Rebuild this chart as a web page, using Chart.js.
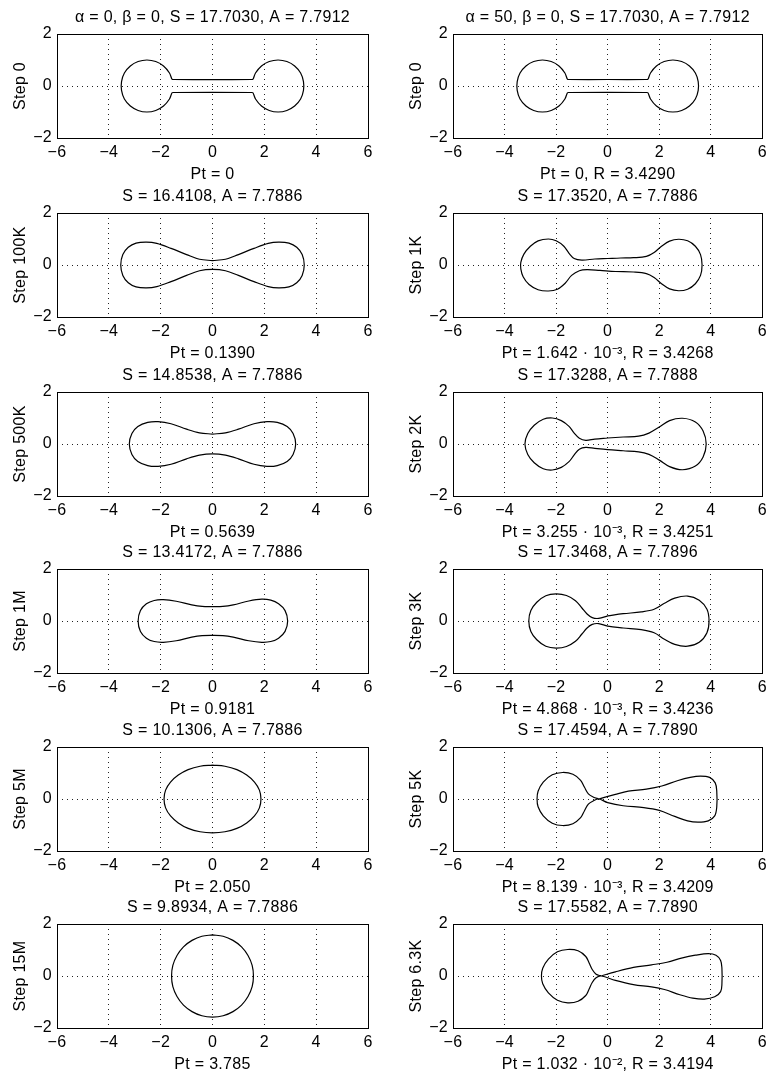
<!DOCTYPE html>
<html>
<head>
<meta charset="utf-8">
<script src="https://cdn.jsdelivr.net/npm/chart.js@4.4.1/dist/chart.umd.min.js"></script>
<style>
  body { margin: 0; background: #fff; width: 772px; height: 1076px; position: relative; overflow: hidden; }
  canvas { position: absolute; }
</style>
</head>
<body>
<script>
// tick labels
const xTickValues = [-6, -4, -2, 0, 2, 4, 6];
const yTickValues = [-2, 0, 2];

// texts, left column (alpha = 0)
const leftTitles = [
  "\u03b1 = 0, \u03b2 = 0, S = 17.7030, A = 7.7912",
  "S = 16.4108, A = 7.7886",
  "S = 14.8538, A = 7.7886",
  "S = 13.4172, A = 7.7886",
  "S = 10.1306, A = 7.7886",
  "S = 9.8934, A = 7.7886"
];
const leftSteps = ["Step 0", "Step 100K", "Step 500K", "Step 1M", "Step 5M", "Step 15M"];
const leftPt = ["Pt = 0", "Pt = 0.1390", "Pt = 0.5639", "Pt = 0.9181", "Pt = 2.050", "Pt = 3.785"];

// texts, right column (alpha = 50)
const rightTitles = [
  "\u03b1 = 50, \u03b2 = 0, S = 17.7030, A = 7.7912",
  "S = 17.3520, A = 7.7886",
  "S = 17.3288, A = 7.7888",
  "S = 17.3468, A = 7.7896",
  "S = 17.4594, A = 7.7890",
  "S = 17.5582, A = 7.7890"
];
const rightSteps = ["Step 0", "Step 1K", "Step 2K", "Step 3K", "Step 5K", "Step 6.3K"];
const rightPt = [
  "Pt = 0, R = 3.4290",
  "Pt = 1.642 \u00b7 10\u207b\u00b3, R = 3.4268",
  "Pt = 3.255 \u00b7 10\u207b\u00b3, R = 3.4251",
  "Pt = 4.868 \u00b7 10\u207b\u00b3, R = 3.4236",
  "Pt = 8.139 \u00b7 10\u207b\u00b3, R = 3.4209",
  "Pt = 1.032 \u00b7 10\u207b\u00b2, R = 3.4194"
];

// shapes, points, in order round each closed curve
const step0 = [[0,0.25],[-1.5,0.25],[-1.56,0.26],[-1.66,0.5],[-1.89,0.77],[-2.19,0.94],[-2.53,1],[-2.87,0.94],[-3.17,0.77],[-3.4,0.5],[-3.51,0.17],[-3.51,-0.17],[-3.4,-0.5],[-3.17,-0.77],[-2.87,-0.94],[-2.53,-1],[-2.19,-0.94],[-1.89,-0.77],[-1.66,-0.5],[-1.56,-0.26],[-1.5,-0.25],[1.5,-0.25],[1.56,-0.26],[1.66,-0.5],[1.89,-0.77],[2.19,-0.94],[2.53,-1],[2.87,-0.94],[3.17,-0.77],[3.4,-0.5],[3.51,-0.17],[3.51,0.17],[3.4,0.5],[3.17,0.77],[2.87,0.94],[2.53,1],[2.19,0.94],[1.89,0.77],[1.66,0.5],[1.56,0.26],[1.5,0.25],[0,0.25]];

const step100K = [[0,0.17],[-0.5,0.22],[-1,0.4],[-1.6,0.64],[-2.15,0.83],[-2.55,0.88],[-2.95,0.84],[-3.25,0.68],[-3.46,0.4],[-3.54,0],[-3.46,-0.4],[-3.25,-0.68],[-2.95,-0.84],[-2.55,-0.88],[-2.15,-0.83],[-1.6,-0.64],[-1,-0.4],[-0.5,-0.22],[0,-0.17],[0.5,-0.22],[1,-0.4],[1.6,-0.64],[2.15,-0.83],[2.55,-0.88],[2.95,-0.84],[3.25,-0.68],[3.46,-0.4],[3.54,0],[3.46,0.4],[3.25,0.68],[2.95,0.84],[2.55,0.88],[2.15,0.83],[1.6,0.64],[1,0.4],[0.5,0.22],[0,0.17]];

const step500K = [[0,0.38],[-0.5,0.43],[-1,0.57],[-1.6,0.78],[-2.1,0.86],[-2.5,0.83],[-2.88,0.67],[-3.11,0.4],[-3.21,0],[-3.11,-0.4],[-2.88,-0.67],[-2.5,-0.83],[-2.1,-0.86],[-1.6,-0.78],[-1,-0.57],[-0.5,-0.43],[0,-0.38],[0.5,-0.43],[1,-0.57],[1.6,-0.78],[2.1,-0.86],[2.5,-0.83],[2.88,-0.67],[3.11,-0.4],[3.21,0],[3.11,0.4],[2.88,0.67],[2.5,0.83],[2.1,0.86],[1.6,0.78],[1,0.57],[0.5,0.43],[0,0.38]];

const step1M = [[0,0.55],[-0.4,0.56],[-0.8,0.62],[-1.4,0.76],[-1.9,0.82],[-2.25,0.79],[-2.55,0.66],[-2.78,0.4],[-2.87,0],[-2.78,-0.4],[-2.55,-0.66],[-2.25,-0.79],[-1.9,-0.82],[-1.4,-0.76],[-0.8,-0.62],[-0.4,-0.56],[0,-0.55],[0.4,-0.56],[0.8,-0.62],[1.4,-0.76],[1.9,-0.82],[2.25,-0.79],[2.55,-0.66],[2.8,-0.4],[2.9,0],[2.8,0.4],[2.55,0.66],[2.25,0.8],[1.9,0.84],[1.4,0.77],[0.8,0.62],[0.4,0.56],[0,0.55]];

const step5M = [[0,1.3],[-0.48,1.26],[-0.94,1.13],[-1.32,0.92],[-1.62,0.65],[-1.81,0.34],[-1.87,0],[-1.81,-0.34],[-1.62,-0.65],[-1.32,-0.92],[-0.94,-1.13],[-0.48,-1.26],[0,-1.3],[0.48,-1.26],[0.94,-1.13],[1.32,-0.92],[1.62,-0.65],[1.81,-0.34],[1.87,0],[1.81,0.34],[1.62,0.65],[1.32,0.92],[0.94,1.13],[0.48,1.26],[0,1.3]];

const step15M = [[0,1.58],[-0.41,1.53],[-0.79,1.37],[-1.12,1.12],[-1.37,0.79],[-1.53,0.41],[-1.58,0],[-1.53,-0.41],[-1.37,-0.79],[-1.12,-1.12],[-0.79,-1.37],[-0.41,-1.53],[0,-1.58],[0.41,-1.53],[0.79,-1.37],[1.12,-1.12],[1.37,-0.79],[1.53,-0.41],[1.58,0],[1.53,0.41],[1.37,0.79],[1.12,1.12],[0.79,1.37],[0.41,1.53],[0,1.58]];

const step1K = [[0,0.25],[-0.5,0.23],[-1,0.19],[-1.3,0.25],[-1.5,0.45],[-1.7,0.72],[-2,0.93],[-2.3,1],[-2.7,0.93],[-3,0.72],[-3.25,0.42],[-3.37,0.1],[-3.37,-0.15],[-3.28,-0.45],[-3.05,-0.75],[-2.7,-0.95],[-2.3,-1],[-1.95,-0.93],[-1.65,-0.7],[-1.4,-0.4],[-1.1,-0.22],[-0.8,-0.18],[-0.3,-0.21],[0.3,-0.25],[1,-0.27],[1.5,-0.33],[1.8,-0.48],[2.1,-0.73],[2.4,-0.92],[2.75,-0.99],[3.1,-0.93],[3.4,-0.72],[3.6,-0.4],[3.66,0],[3.6,0.4],[3.4,0.72],[3.1,0.93],[2.75,0.99],[2.4,0.92],[2.1,0.73],[1.8,0.48],[1.5,0.33],[1,0.28],[0.5,0.27],[0,0.25]];

const step2K = [[0,0.23],[-0.5,0.19],[-0.85,0.14],[-1.1,0.22],[-1.3,0.42],[-1.5,0.68],[-1.8,0.9],[-2.15,1],[-2.5,0.95],[-2.85,0.72],[-3.1,0.4],[-3.21,0],[-3.1,-0.4],[-2.85,-0.72],[-2.5,-0.95],[-2.15,-1],[-1.8,-0.9],[-1.5,-0.68],[-1.3,-0.42],[-1.1,-0.2],[-0.85,-0.13],[-0.5,-0.17],[0,-0.22],[0.6,-0.26],[1.2,-0.3],[1.6,-0.4],[2,-0.62],[2.4,-0.87],[2.9,-0.99],[3.4,-0.85],[3.7,-0.5],[3.82,0],[3.7,0.5],[3.4,0.85],[2.9,0.99],[2.4,0.9],[2,0.65],[1.6,0.42],[1.2,0.3],[0.6,0.27],[0,0.23]];

const step3K = [[0,0.2],[-0.35,0.1],[-0.6,0.13],[-0.8,0.27],[-1,0.5],[-1.25,0.78],[-1.6,0.98],[-2,1.04],[-2.4,0.97],[-2.75,0.72],[-2.98,0.4],[-3.06,0],[-2.98,-0.4],[-2.75,-0.72],[-2.4,-0.97],[-2,-1.04],[-1.6,-0.98],[-1.25,-0.78],[-1,-0.5],[-0.8,-0.27],[-0.6,-0.13],[-0.35,-0.1],[0,-0.2],[0.6,-0.27],[1.3,-0.33],[1.8,-0.45],[2.2,-0.7],[2.6,-0.9],[3.1,-0.97],[3.55,-0.82],[3.85,-0.45],[3.93,0],[3.85,0.45],[3.55,0.8],[3.1,0.96],[2.6,0.88],[2.2,0.68],[1.8,0.45],[1.3,0.35],[0.6,0.28],[0,0.2]];

const step5K = [[-0.35,0],[-0.55,0.07],[-0.75,0.2],[-0.9,0.45],[-1.05,0.72],[-1.35,0.95],[-1.75,1.02],[-2.15,0.93],[-2.5,0.65],[-2.7,0.3],[-2.74,0],[-2.7,-0.3],[-2.5,-0.65],[-2.15,-0.93],[-1.75,-1.02],[-1.35,-0.95],[-1.05,-0.72],[-0.9,-0.45],[-0.75,-0.2],[-0.55,-0.07],[-0.35,0],[0,-0.14],[0.6,-0.26],[1.4,-0.33],[2,-0.44],[2.6,-0.67],[3.1,-0.84],[3.5,-0.89],[3.9,-0.84],[4.15,-0.65],[4.23,-0.3],[4.23,0.3],[4.17,0.62],[3.95,0.83],[3.6,0.88],[3.2,0.83],[2.7,0.7],[2.1,0.5],[1.5,0.38],[0.8,0.3],[0.3,0.18],[-0.35,0]];

const step6_3K = [[-0.25,0],[-0.45,0.07],[-0.6,0.25],[-0.72,0.5],[-0.85,0.75],[-1.15,0.97],[-1.55,1.02],[-1.95,0.93],[-2.3,0.65],[-2.52,0.3],[-2.57,0],[-2.52,-0.3],[-2.3,-0.65],[-1.95,-0.93],[-1.55,-1.03],[-1.15,-0.97],[-0.85,-0.75],[-0.72,-0.5],[-0.6,-0.25],[-0.45,-0.07],[-0.25,0],[0.3,-0.17],[1,-0.33],[1.7,-0.42],[2.2,-0.52],[2.8,-0.72],[3.3,-0.85],[3.75,-0.89],[4.15,-0.8],[4.38,-0.6],[4.43,-0.3],[4.43,0.3],[4.38,0.6],[4.2,0.8],[3.9,0.86],[3.4,0.8],[2.9,0.7],[2.3,0.53],[1.7,0.43],[1,0.33],[0.3,0.16],[-0.25,0]];

const leftShapes = [step0, step100K, step500K, step1M, step5M, step15M];
const rightShapes = [step0, step1K, step2K, step3K, step5K, step6_3K];

// top edge of each row of axes, in page pixels
const rowTops = [34, 213, 392, 569, 747, 924];

const font = { family: "'Liberation Sans', Arial, Helvetica, sans-serif", size: 16, weight: "normal" };

function minusLabel(v) {
  return v < 0 ? "\u2212" + Math.abs(v) : String(v);
}

// the printed figure sets its text a bit looser than Arial
const spacingPlugin = {
  id: "spacing",
  beforeUpdate(chart) { chart.ctx.letterSpacing = "0.3px"; },
  beforeDraw(chart) { chart.ctx.letterSpacing = "0.3px"; }
};

// matlab style box round the axes
const framePlugin = {
  id: "frame",
  afterDatasetsDraw(chart) {
    const { ctx, chartArea: a } = chart;
    ctx.save();
    ctx.strokeStyle = "#000";
    ctx.lineWidth = 1;
    ctx.setLineDash([]);
    ctx.strokeRect(Math.round(a.left) + 0.5, Math.round(a.top) + 0.5,
                   Math.round(a.right) - Math.round(a.left), Math.round(a.bottom) - Math.round(a.top));
    ctx.restore();
  }
};

function makePanel(col, row, shape, title, step, pt) {
  const canvas = document.createElement("canvas");
  canvas.width = 386;
  canvas.height = 184;
  canvas.style.left = (col * 386) + "px";
  canvas.style.top = (rowTops[row] - 34) + "px";
  document.body.appendChild(canvas);

  new Chart(canvas, {
    type: "scatter",
    data: {
      datasets: [{
        data: shape.map(p => ({ x: p[0], y: p[1] })),
        showLine: true,
        borderColor: "#000",
        borderWidth: 1.2,
        pointRadius: 0,
        tension: 0.35,
        fill: false
      }]
    },
    options: {
      responsive: false,
      animation: false,
      layout: {
        padding: col === 0 ? { left: 0, right: 18, top: 8, bottom: 0 }
                           : { left: 10, right: 7, top: 8, bottom: 0 }
      },
      plugins: {
        legend: { display: false },
        tooltip: { enabled: false },
        title: {
          display: true, text: title, fullSize: false, font: font, color: "#000",
          padding: { top: 0, bottom: 6.8 }
        }
      },
      scales: {
        x: {
          type: "linear", min: -6, max: 6,
          afterBuildTicks: s => { s.ticks = xTickValues.map(v => ({ value: v })); },
          afterFit: s => { s.height = 46; },
          ticks: { font: font, color: "#000", padding: 5, maxRotation: 0, autoSkip: false, callback: minusLabel },
          grid: { color: "#222", lineWidth: 1, drawTicks: false },
          border: { display: false, dash: [1, 4] },
          title: { display: true, text: pt, font: font, color: "#000", padding: { top: 0, bottom: 0 } }
        },
        y: {
          type: "linear", min: -2, max: 2,
          afterBuildTicks: s => { s.ticks = yTickValues.map(v => ({ value: v })); },
          afterFit: s => { s.width = 57; },
          ticks: { font: font, color: "#000", padding: 5, autoSkip: false, callback: minusLabel },
          grid: { color: "#222", lineWidth: 1, drawTicks: false },
          border: { display: false, dash: [1, 4] },
          title: { display: true, text: step, font: font, color: "#000", padding: { top: 11.4, bottom: 0 } }
        }
      }
    },
    plugins: [spacingPlugin, framePlugin]
  });
}

for (let r = 0; r < 6; r++) {
  makePanel(0, r, leftShapes[r], leftTitles[r], leftSteps[r], leftPt[r]);
  makePanel(1, r, rightShapes[r], rightTitles[r], rightSteps[r], rightPt[r]);
}
</script>
</body>
</html>
